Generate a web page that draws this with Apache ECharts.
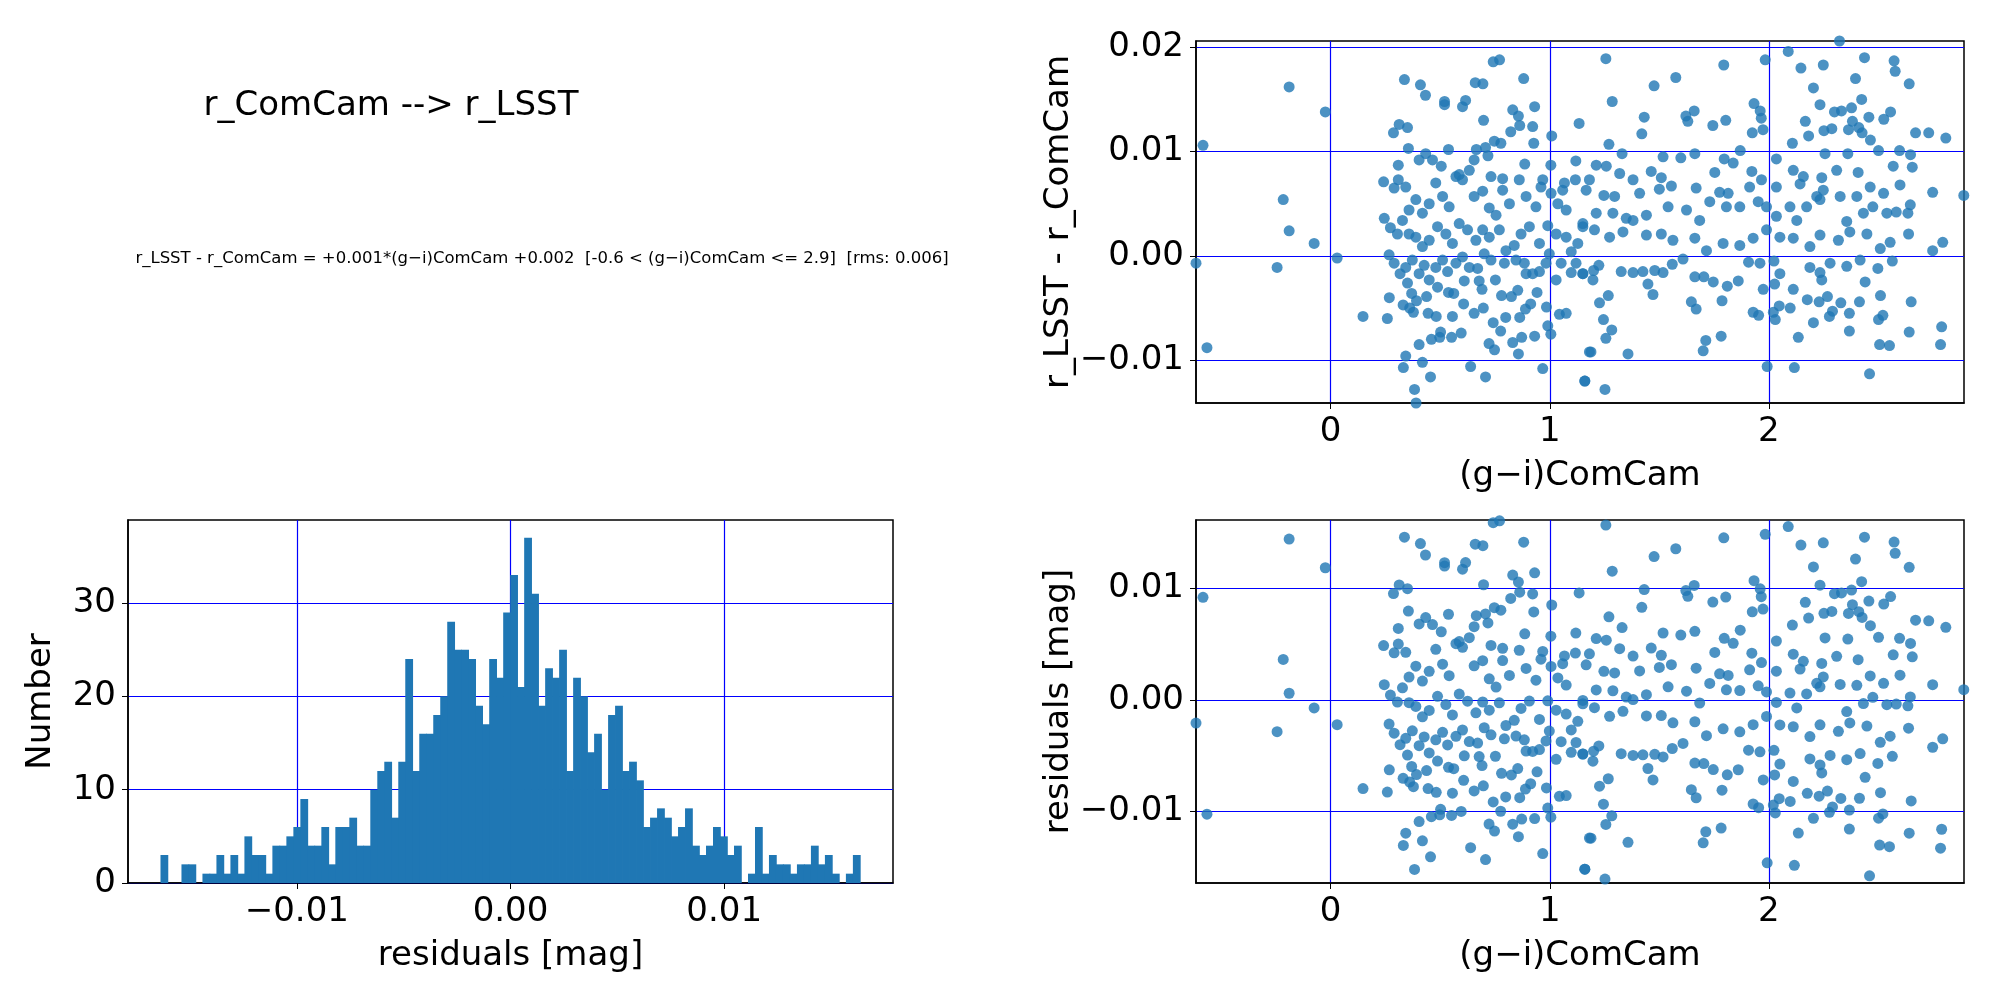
<!DOCTYPE html>
<html>
<head>
<meta charset="utf-8">
<script src="https://cdn.jsdelivr.net/npm/echarts@6/dist/echarts.min.js"></script>
<style>html,body{margin:0;padding:0;background:#fff}#main{width:2000px;height:1000px}</style>
</head>
<body>
<div id="main"></div>
<script>
// histogram bins (residuals [mag]) and counts
var binStart = -0.01638;
var binWidth = 0.0003273;
var histCounts = [3,0,0,2,2,0,1,1,3,1,3,1,5,3,3,1,4,4,5,6,9,4,4,6,2,6,6,7,4,4,
  10,12,13,7,13,24,12,16,16,18,20,28,25,25,24,19,17,24,22,29,33,21,37,31,19,23,22,25,12,22,
  20,14,16,10,18,19,12,13,11,6,7,8,7,5,6,8,4,3,4,6,5,3,4,0,1,6,1,3,2,2,
  1,2,2,4,2,3,1,0,1,3];

// fit used for residuals: r_LSST - r_ComCam = slope*(g-i) + offset
var fitSlope = 0.001;
var fitOffset = 0.002;

// (g-i)ComCam colours and r_LSST - r_ComCam values
var gi = [-0.582,-0.189,-0.024,-0.216,-0.189,-0.075,-0.614,-0.244,0.030,-0.564,0.148,0.242,0.245,0.273,0.267,0.268,0.259,0.287,0.313,0.351,
  0.337,0.410,0.433,0.520,0.520,0.616,0.602,0.660,0.695,0.742,0.771,0.881,0.831,0.857,0.931,0.863,0.922,0.822,0.698,0.747,
  0.777,0.927,1.009,1.134,0.355,0.309,0.665,0.707,0.718,0.886,1.119,1.005,
  0.343,0.332,0.383,0.390,0.419,0.456,0.404,0.460,0.498,0.502,0.552,0.596,0.639,0.707,0.723,0.748,0.776,0.742,
  0.831,0.857,0.872,0.931,0.968,0.991,1.005,1.044,1.075,1.160,1.181,0.331,0.361,0.378,0.445,0.482,0.556,0.607,0.655,0.697,
  0.799,0.863,0.889,0.913,0.985,0.942,0.780,0.825,0.691,0.678,0.610,0.562,0.538,0.488,0.438,0.392,0.370,0.351,0.854,0.752,
  0.892,0.953,1.029,1.098,1.151,
  0.290,0.317,0.343,0.373,0.404,0.427,0.450,0.480,0.511,0.534,0.572,0.602,0.633,0.671,0.701,0.732,0.793,0.846,0.884,0.922,
  0.983,0.998,1.052,1.098,1.120,
  0.305,0.358,0.389,0.419,0.450,0.488,0.526,0.556,0.587,0.625,0.663,0.694,0.724,0.770,0.800,0.838,0.869,0.907,0.953,0.991,
  1.029,1.075,1.128,1.151,
  0.328,0.358,0.389,0.419,0.450,0.480,0.511,0.541,0.572,0.602,0.633,0.655,0.694,0.724,0.755,0.785,0.816,0.861,0.892,0.937,
  0.968,1.006,1.037,1.067,1.117,1.075,0.290,0.309,0.343,0.404,0.434,0.465,0.505,0.538,0.587,0.655,0.732,0.785,0.960,1.059,
  1.256,1.794,1.983,2.088,2.322,2.146,2.248,2.436,2.571,2.576,2.640,2.395,1.575,1.476,1.285,1.431,1.420,1.621,1.659,1.630,
  1.744,1.803,1.932,1.960,1.965,1.973,1.924,2.203,2.233,2.166,2.299,2.331,2.377,2.423,2.456,2.381,2.363,2.410,2.425,2.524,
  2.555,2.251,2.287,2.181,2.669,2.729,2.807,2.463,2.107,1.270,1.869,2.256,2.360,2.500,2.596,2.646,2.654,2.747,2.889,1.598,
  1.662,1.517,1.330,
  1.212,1.181,1.258,1.319,1.380,1.463,1.509,1.555,1.753,1.796,1.837,1.922,1.966,2.034,2.111,2.157,2.241,2.309,2.407,2.567,
  2.598,1.166,1.247,1.296,1.410,1.500,1.668,1.775,1.814,1.912,2.034,2.142,2.218,2.248,2.325,2.401,2.462,2.523,2.645,1.212,
  1.288,1.349,1.441,1.540,1.624,1.684,1.730,1.806,1.867,1.951,1.989,2.034,2.096,2.127,2.172,2.233,2.355,2.431,2.474,2.538,
  2.581,2.634,1.151,1.204,1.273,1.334,1.380,1.441,1.509,1.562,1.662,1.715,1.791,1.867,1.928,1.989,2.050,2.111,2.187,2.233,
  2.317,2.369,2.447,2.508,2.553,2.637,2.747,2.793,
  1.151,1.200,1.224,1.197,1.326,1.380,1.425,1.479,1.517,1.559,1.608,1.662,1.703,1.746,1.810,1.860,1.907,1.959,2.023,2.050,
  2.026,1.974,2.187,2.233,2.279,2.355,2.416,2.497,2.563,2.439,2.241,2.111,1.227,1.267,1.245,1.283,1.256,1.188,1.357,1.448,
  1.471,1.646,1.668,1.786,1.712,1.700,1.782,1.928,1.953,2.020,2.047,2.029,2.097,2.134,2.175,2.203,2.229,2.267,2.290,2.276,
  2.328,2.367,2.367,2.413,2.509,2.500,2.520,2.649,2.640,2.505,2.550,2.788,2.783,1.992,2.116,2.459,1.160,1.252];
var dr = [0.0106,0.0162,0.0138,0.0054,0.0024,0.0012,-0.0007,-0.0011,-0.0002,-0.0088,-0.0058,0.0071,0.0036,0.0027,0.0001,-0.0040,-0.0060,0.0118,0.0126,0.0123,
  0.0169,0.0164,0.0154,0.0148,0.0145,0.0149,0.0143,0.0166,0.0165,0.0186,0.0188,0.0170,0.0140,0.0134,0.0143,0.0125,0.0124,0.0119,0.0130,0.0110,
  0.0108,0.0108,0.0115,0.0127,0.0103,0.0087,0.0102,0.0104,0.0096,0.0088,0.0091,0.0087,
  -0.0096,-0.0107,-0.0128,-0.0141,-0.0102,-0.0116,-0.0085,-0.0080,-0.0078,-0.0073,-0.0078,-0.0074,-0.0106,-0.0116,-0.0084,-0.0090,-0.0072,-0.0064,
  -0.0083,-0.0094,-0.0078,-0.0077,-0.0108,-0.0067,-0.0075,-0.0056,-0.0055,-0.0120,-0.0092,-0.0047,-0.0050,-0.0054,-0.0055,-0.0058,-0.0058,-0.0046,-0.0055,-0.0050,
  -0.0059,-0.0059,-0.0051,-0.0046,-0.0049,-0.0035,-0.0038,-0.0039,-0.0032,-0.0024,-0.0024,-0.0036,-0.0035,-0.0030,-0.0039,-0.0043,-0.0036,-0.0026,-0.0033,-0.0023,
  -0.0017,-0.0015,-0.0023,-0.0016,-0.0017,
  -0.0007,-0.0017,-0.0011,-0.0004,-0.0017,-0.0009,-0.0023,-0.0011,-0.0004,-0.0015,-0.0007,-0.0001,-0.0011,-0.0012,0.0002,-0.0004,-0.0007,-0.0004,-0.0007,-0.0017,
  -0.0007,0.0002,-0.0007,0.0004,-0.0007,
  0.0021,0.0021,0.0018,0.0009,0.0015,0.0028,0.0021,0.0012,0.0031,0.0025,0.0015,0.0025,0.0018,0.0025,0.0005,0.0010,0.0021,0.0028,0.0012,0.0029,
  0.0021,0.0018,0.0012,0.0028,
  0.0034,0.0044,0.0054,0.0041,0.0050,0.0070,0.0057,0.0047,0.0076,0.0073,0.0082,0.0057,0.0062,0.0046,0.0039,0.0074,0.0050,0.0073,0.0057,0.0047,
  0.0073,0.0060,0.0050,0.0070,0.0073,0.0044,0.0065,0.0073,0.0066,0.0092,0.0098,0.0092,0.0086,0.0102,0.0078,0.0092,0.0076,0.0063,0.0066,0.0063,
  0.0189,0.0183,0.0188,0.0196,0.0206,0.0180,0.0183,0.0190,0.0187,0.0177,0.0165,0.0170,0.0171,0.0163,0.0148,0.0133,0.0117,0.0134,0.0139,0.0129,
  0.0125,0.0130,0.0146,0.0139,0.0132,0.0121,0.0118,0.0161,0.0145,0.0129,0.0138,0.0139,0.0142,0.0150,0.0133,0.0129,0.0121,0.0123,0.0118,0.0131,
  0.0138,0.0120,0.0122,0.0115,0.0118,0.0118,0.0113,0.0111,0.0108,0.0107,0.0101,0.0098,0.0098,0.0101,0.0101,0.0097,0.0085,0.0061,0.0058,0.0094,
  0.0098,0.0095,0.0098,
  0.0087,0.0073,0.0086,0.0079,0.0073,0.0081,0.0075,0.0067,0.0080,0.0093,0.0089,0.0081,0.0073,0.0093,0.0082,0.0076,0.0075,0.0082,0.0080,0.0086,
  0.0068,0.0063,0.0058,0.0057,0.0060,0.0064,0.0065,0.0061,0.0060,0.0066,0.0066,0.0069,0.0057,0.0063,0.0057,0.0057,0.0066,0.0060,0.0049,0.0041,
  0.0041,0.0036,0.0039,0.0047,0.0044,0.0034,0.0052,0.0047,0.0047,0.0052,0.0047,0.0038,0.0047,0.0034,0.0047,0.0054,0.0033,0.0041,0.0047,0.0041,
  0.0042,0.0041,0.0031,0.0025,0.0018,0.0023,0.0034,0.0020,0.0021,0.0015,0.0017,0.0005,0.0012,0.0010,0.0017,0.0025,0.0018,0.0017,0.0009,0.0020,
  0.0015,0.0023,0.0021,0.0007,0.0013,0.0021,0.0005,0.0013,
  -0.0017,-0.0014,-0.0009,-0.0023,-0.0015,-0.0016,-0.0015,-0.0014,-0.0016,-0.0008,-0.0003,-0.0020,-0.0020,-0.0025,-0.0029,-0.0024,-0.0006,-0.0007,-0.0005,-0.0017,
  -0.0027,-0.0032,-0.0011,-0.0016,-0.0007,-0.0010,-0.0004,-0.0012,-0.0005,-0.0025,-0.0023,-0.0032,-0.0045,-0.0038,-0.0061,-0.0071,-0.0079,-0.0092,-0.0094,-0.0027,
  -0.0037,-0.0044,-0.0051,-0.0043,-0.0081,-0.0091,-0.0077,-0.0054,-0.0057,-0.0054,-0.0048,-0.0061,-0.0050,-0.0078,-0.0042,-0.0064,-0.0044,-0.0039,-0.0053,-0.0058,
  -0.0045,-0.0055,-0.0072,-0.0044,-0.0038,-0.0061,-0.0057,-0.0044,-0.0073,-0.0085,-0.0086,-0.0068,-0.0085,-0.0106,-0.0107,-0.0113,-0.0120,-0.0128];

var scatterTop = [], scatterRes = [], histData = [];
for (var i = 0; i < gi.length; i++) {
  scatterTop.push([gi[i], dr[i]]);
  scatterRes.push([gi[i], dr[i] - (fitSlope * gi[i] + fitOffset)]);
}
for (var j = 0; j < histCounts.length; j++) {
  histData.push([binStart + j * binWidth, binStart + (j + 1) * binWidth, histCounts[j]]);
}

function fmt(v) {
  var s = Math.abs(v) < 1e-9 ? '0.00' : Math.abs(v).toFixed(2);
  return v < -1e-9 ? '\u2212' + s : s;
}

var font = 'DejaVu Sans';
var blue = '#0000ff';
var fs = 34;
function axisCommon(extra) {
  var a = {
    type: 'value',
    axisLine: { show: true, onZero: false, lineStyle: { color: '#000', width: 1.5 } },
    axisTick: { show: true, length: 6, lineStyle: { color: '#000' } },
    axisLabel: { color: '#000', fontSize: fs, fontFamily: font, margin: 12 },
    splitLine: { show: true, lineStyle: { color: blue, width: 1.2 } },
    nameLocation: 'middle',
    nameTextStyle: { color: '#000', fontSize: fs, fontFamily: font }
  };
  for (var k in extra) a[k] = extra[k];
  return a;
}
function ticks(vals) {
  return { show: true, length: 6, customValues: vals, lineStyle: { color: '#000' } };
}
function labels(vals, f) {
  var l = { color: '#000', fontSize: fs, fontFamily: font, margin: 12, customValues: vals };
  if (f) l.formatter = f;
  return l;
}
function giAxis(idx) {
  return axisCommon({ gridIndex: idx, min: -0.614, max: 2.89, name: '(g\u2212i)ComCam', nameGap: 56,
    axisTick: ticks([0, 1, 2]), axisLabel: labels([0, 1, 2]) });
}

var chart = echarts.init(document.getElementById('main'));
chart.setOption({
  animation: false,
  backgroundColor: '#fff',
  title: [
    { text: 'r_ComCam --> r_LSST', left: 386, top: 84, textAlign: 'center',
      textStyle: { fontSize: 34, fontWeight: 'normal', fontFamily: font, color: '#000' } },
    { text: 'r_LSST - r_ComCam = +0.001*(g\u2212i)ComCam +0.002  [-0.6 < (g\u2212i)ComCam <= 2.9]  [rms: 0.006]',
      left: 537, top: 245, textAlign: 'center',
      textStyle: { fontSize: 16.5, fontWeight: 'normal', fontFamily: font, color: '#000' } }
  ],
  grid: [
    { left: 1196, top: 41, width: 768, height: 362, show: true, borderColor: '#000', borderWidth: 1.5 },
    { left: 1196, top: 520, width: 768, height: 363, show: true, borderColor: '#000', borderWidth: 1.5 },
    { left: 128, top: 520, width: 765, height: 363, show: true, borderColor: '#000', borderWidth: 1.5 }
  ],
  xAxis: [
    giAxis(0),
    giAxis(1),
    axisCommon({ gridIndex: 2, min: -0.0179, max: 0.0179, name: 'residuals [mag]', nameGap: 56,
      axisTick: ticks([-0.01, 0, 0.01]), axisLabel: labels([-0.01, 0, 0.01], fmt) })
  ],
  yAxis: [
    axisCommon({ gridIndex: 0, min: -0.0141, max: 0.0206, name: 'r_LSST - r_ComCam', nameGap: 120,
      axisTick: ticks([-0.01, 0, 0.01, 0.02]), axisLabel: labels([-0.01, 0, 0.01, 0.02], fmt) }),
    axisCommon({ gridIndex: 1, min: -0.0164, max: 0.0161, name: 'residuals [mag]', nameGap: 120,
      axisTick: ticks([-0.01, 0, 0.01]), axisLabel: labels([-0.01, 0, 0.01], fmt) }),
    axisCommon({ gridIndex: 2, min: 0, max: 38.9, name: 'Number', nameGap: 70,
      axisTick: ticks([0, 10, 20, 30]), axisLabel: labels([0, 10, 20, 30]) })
  ],
  series: [
    { type: 'scatter', xAxisIndex: 0, yAxisIndex: 0, data: scatterTop, symbolSize: 11,
      itemStyle: { color: '#1f77b4', opacity: 0.8 } },
    { type: 'scatter', xAxisIndex: 1, yAxisIndex: 1, data: scatterRes, symbolSize: 11,
      itemStyle: { color: '#1f77b4', opacity: 0.8 } },
    { type: 'custom', xAxisIndex: 2, yAxisIndex: 2, data: histData,
      encode: { x: [0, 1], y: 2 },
      renderItem: function (params, api) {
        var p0 = api.coord([api.value(0), api.value(2)]);
        var p1 = api.coord([api.value(1), 0]);
        return { type: 'rect', shape: { x: p0[0], y: p0[1], width: p1[0] - p0[0] + 0.8, height: p1[1] - p0[1] },
          style: { fill: '#1f77b4' } };
      } }
  ]
});
</script>
</body>
</html>
